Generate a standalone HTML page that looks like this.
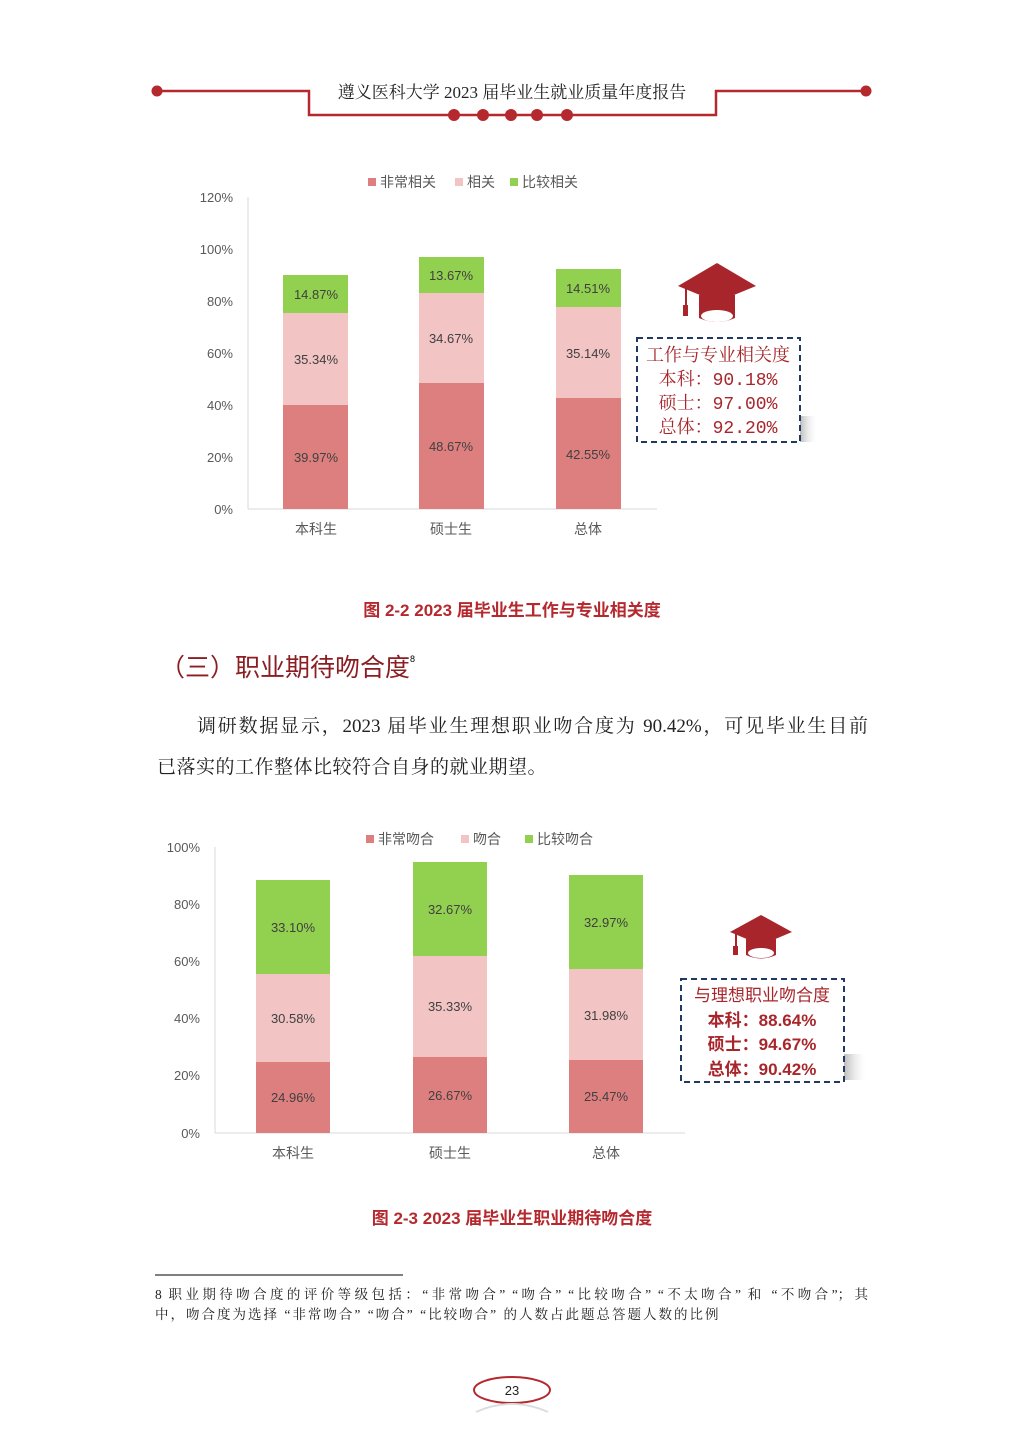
<!DOCTYPE html>
<html><head><meta charset="utf-8"><style>
body{margin:0;background:#fff;width:1024px;height:1448px;position:relative;overflow:hidden;font-family:"Liberation Sans","Noto Sans CJK SC",sans-serif}
.a{position:absolute;white-space:nowrap}
.serif{font-family:"Liberation Serif","Noto Serif CJK SC",serif}
.j{text-align:justify;text-align-last:justify;white-space:normal}
</style></head><body>
<svg class="a" style="left:0;top:0" width="1024" height="1448">
<defs><linearGradient id="sh" x1="0" x2="1"><stop offset="0" stop-color="#bbb"/><stop offset="1" stop-color="#fff" stop-opacity="0"/></linearGradient></defs>
<g stroke="#b5292e" stroke-width="2.5" fill="none">
<polyline points="157,91 309,91 309,115 716,115 716,91 866,91"/>
</g>
<g fill="#b5292e">
<circle cx="157" cy="91" r="5.5"/><circle cx="866" cy="91" r="5.5"/>
<circle cx="454" cy="115" r="6"/><circle cx="483" cy="115" r="6"/><circle cx="511" cy="115" r="6"/><circle cx="537" cy="115" r="6"/><circle cx="567" cy="115" r="6"/>
</g>
<text x="512" y="98" text-anchor="middle" font-size="17" fill="#222" font-family="Liberation Serif,Noto Serif CJK SC,serif">遵义医科大学 2023 届毕业生就业质量年度报告</text>

<g font-size="13" fill="#595959" text-anchor="end">
<text x="233" y="202">120%</text><text x="233" y="254">100%</text><text x="233" y="306">80%</text><text x="233" y="358">60%</text><text x="233" y="410">40%</text><text x="233" y="462">20%</text><text x="233" y="514">0%</text>
</g>
<line x1="248" y1="197" x2="248" y2="509" stroke="#d9d9d9"/>
<line x1="248" y1="509" x2="657" y2="509" stroke="#d9d9d9"/>
<g>
<rect x="283" y="405" width="65" height="104" fill="#de7f7f"/><rect x="283" y="313" width="65" height="92" fill="#f2c4c4"/><rect x="283" y="275" width="65" height="38" fill="#92d050"/>
<rect x="419" y="383" width="65" height="126" fill="#de7f7f"/><rect x="419" y="293" width="65" height="90" fill="#f2c4c4"/><rect x="419" y="257" width="65" height="36" fill="#92d050"/>
<rect x="556" y="398" width="65" height="111" fill="#de7f7f"/><rect x="556" y="307" width="65" height="91" fill="#f2c4c4"/><rect x="556" y="269" width="65" height="38" fill="#92d050"/>
</g>
<g font-size="13" fill="#404040" text-anchor="middle">
<text x="316" y="462">39.97%</text><text x="316" y="364">35.34%</text><text x="316" y="299">14.87%</text>
<text x="451" y="451">48.67%</text><text x="451" y="343">34.67%</text><text x="451" y="280">13.67%</text>
<text x="588" y="459">42.55%</text><text x="588" y="358">35.14%</text><text x="588" y="293">14.51%</text>
</g>
<g font-size="14" fill="#595959" text-anchor="middle">
<text x="316" y="534">本科生</text><text x="451" y="534">硕士生</text><text x="588" y="534">总体</text>
</g>
<g font-size="14" fill="#595959">
<rect x="368" y="178" width="8" height="8" fill="#de7f7f"/><text x="380" y="187">非常相关</text>
<rect x="455" y="178" width="8" height="8" fill="#f2c4c4"/><text x="467" y="187">相关</text>
<rect x="510" y="178" width="8" height="8" fill="#92d050"/><text x="522" y="187">比较相关</text>
</g>
<g fill="#a8262b">
<polygon points="717,263 756,286 717,302 678,286"/>
<path d="M699,295 L735,295 L735,318 Q717,326 699,318 Z"/>
<ellipse cx="717" cy="316" rx="16" ry="6" fill="#fff"/>
<rect x="685" y="287" width="2" height="20"/><rect x="683" y="305" width="5" height="11"/>
</g>
<rect x="800" y="416" width="18" height="26" fill="url(#sh)"/>
<rect x="637" y="338" width="163" height="104" fill="#fff" stroke="#1f3864" stroke-width="2" stroke-dasharray="6,4"/>
<g font-size="18" fill="#a8262b" text-anchor="middle" font-family="Liberation Mono,Noto Serif CJK SC,monospace">
<text x="718" y="361" font-family="Noto Serif CJK SC,serif">工作与专业相关度</text><text x="718" y="385">本科：90.18%</text><text x="718" y="409">硕士：97.00%</text><text x="718" y="433">总体：92.20%</text>
</g>
<text x="512" y="616" text-anchor="middle" font-size="17" font-weight="bold" fill="#b5292e">图 2-2  2023 届毕业生工作与专业相关度</text>

<g font-size="13" fill="#595959" text-anchor="end">
<text x="200" y="852">100%</text><text x="200" y="909">80%</text><text x="200" y="966">60%</text><text x="200" y="1023">40%</text><text x="200" y="1080">20%</text><text x="200" y="1138">0%</text>
</g>
<line x1="215" y1="847" x2="215" y2="1133" stroke="#d9d9d9"/>
<line x1="215" y1="1133" x2="685" y2="1133" stroke="#d9d9d9"/>
<g>
<rect x="256" y="1062" width="74" height="71" fill="#de7f7f"/><rect x="256" y="974" width="74" height="88" fill="#f2c4c4"/><rect x="256" y="880" width="74" height="94" fill="#92d050"/>
<rect x="413" y="1057" width="74" height="76" fill="#de7f7f"/><rect x="413" y="956" width="74" height="101" fill="#f2c4c4"/><rect x="413" y="862" width="74" height="94" fill="#92d050"/>
<rect x="569" y="1060" width="74" height="73" fill="#de7f7f"/><rect x="569" y="969" width="74" height="91" fill="#f2c4c4"/><rect x="569" y="875" width="74" height="94" fill="#92d050"/>
</g>
<g font-size="13" fill="#404040" text-anchor="middle">
<text x="293" y="1102">24.96%</text><text x="293" y="1023">30.58%</text><text x="293" y="932">33.10%</text>
<text x="450" y="1100">26.67%</text><text x="450" y="1011">35.33%</text><text x="450" y="914">32.67%</text>
<text x="606" y="1101">25.47%</text><text x="606" y="1020">31.98%</text><text x="606" y="927">32.97%</text>
</g>
<g font-size="14" fill="#595959" text-anchor="middle">
<text x="293" y="1158">本科生</text><text x="450" y="1158">硕士生</text><text x="606" y="1158">总体</text>
</g>
<g font-size="14" fill="#595959">
<rect x="366" y="835" width="8" height="8" fill="#de7f7f"/><text x="378" y="844">非常吻合</text>
<rect x="461" y="835" width="8" height="8" fill="#f2c4c4"/><text x="473" y="844">吻合</text>
<rect x="525" y="835" width="8" height="8" fill="#92d050"/><text x="537" y="844">比较吻合</text>
</g>
<g fill="#a8262b">
<polygon points="761,915 792,932 761,945 730,932"/>
<path d="M746,939 L776,939 L776,955 Q761,962 746,955 Z"/>
<ellipse cx="761" cy="953" rx="13" ry="5" fill="#fff"/>
<rect x="735" y="933" width="2" height="15"/><rect x="733" y="946" width="5" height="9"/>
</g>
<rect x="844" y="1054" width="24" height="26" fill="url(#sh)"/>
<rect x="681" y="979" width="163" height="103" fill="#fff" stroke="#1f3864" stroke-width="2" stroke-dasharray="6,4"/>
<g font-size="17" fill="#a8262b" text-anchor="middle">
<text x="762" y="1001">与理想职业吻合度</text>
<text x="762" y="1026" font-weight="bold">本科：88.64%</text><text x="762" y="1050" font-weight="bold">硕士：94.67%</text><text x="762" y="1075" font-weight="bold">总体：90.42%</text>
</g>
<text x="512" y="1224" text-anchor="middle" font-size="17" font-weight="bold" fill="#b5292e">图 2-3  2023 届毕业生职业期待吻合度</text>

<line x1="155" y1="1275" x2="403" y2="1275" stroke="#000" stroke-width="1"/>
<ellipse cx="512" cy="1390" rx="38" ry="13" fill="none" stroke="#b5292e" stroke-width="2"/>
<path d="M476,1412 Q512,1396 548,1412" stroke="#ddd" stroke-width="2" fill="none"/>
<text x="512" y="1395" text-anchor="middle" font-size="13" fill="#222">23</text>
</svg>
<div class="a" style="left:160px;top:648px;font-size:25px;color:#8b1e23">（三）职业期待吻合度<span style="font-size:9px;color:#000;vertical-align:14px">8</span></div>
<div class="a serif j" style="left:197px;top:711px;width:671px;font-size:19px;color:#222">调研数据显示，2023 届毕业生理想职业吻合度为 90.42%，可见毕业生目前</div>
<div class="a serif" style="left:157px;top:752px;font-size:19px;color:#222;letter-spacing:0.5px">已落实的工作整体比较符合自身的就业期望。</div>
<div class="a serif j" style="left:155px;top:1285px;width:713px;font-size:13.5px;color:#222;line-height:20px">8 职业期待吻合度的评价等级包括：“非常吻合” “吻合” “比较吻合” “不太吻合” 和 “不吻合”；其</div>
<div class="a serif" style="left:155px;top:1305px;font-size:13.5px;color:#222;line-height:20px;letter-spacing:2px">中，吻合度为选择 “非常吻合” “吻合” “比较吻合” 的人数占此题总答题人数的比例</div>
</body></html>
